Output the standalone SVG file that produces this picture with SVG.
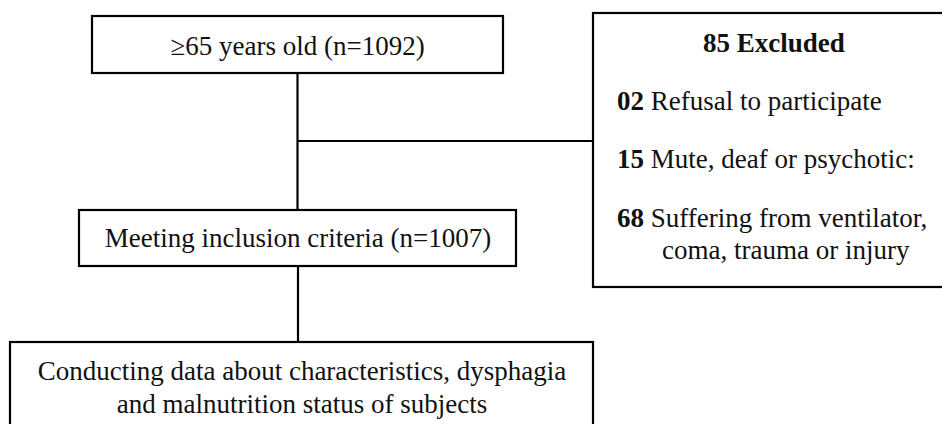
<svg xmlns="http://www.w3.org/2000/svg" width="942" height="424" viewBox="0 0 942 424">
<style>
.box{fill:#fff;stroke:#000;stroke-width:2.2}
.ln{fill:none;stroke:#000;stroke-width:2.2}
text{font-family:"Liberation Serif","Times New Roman",serif;font-size:27px;fill:#111}
.c{text-anchor:middle}
.b{font-weight:bold}
</style>
<rect width="942" height="424" fill="#fff"/>
<g id="connectors">
<line class="ln" x1="297.5" y1="73" x2="297.5" y2="210"/>
<line class="ln" x1="297.5" y1="141" x2="593" y2="141"/>
<line class="ln" x1="298" y1="266" x2="298" y2="342"/>
</g>
<g id="node-age">
<rect class="box" x="92" y="16" width="411" height="57"/>
<text class="c" x="297.5" y="55">≥65 years old (n=1092)</text>
</g>
<g id="node-inclusion">
<rect class="box" x="79" y="210" width="437" height="56"/>
<text class="c" x="298" y="247">Meeting inclusion criteria (n=1007)</text>
</g>
<g id="node-data">
<rect class="box" x="10" y="342" width="583" height="100"/>
<text class="c" x="302" y="380">Conducting data about characteristics, dysphagia</text>
<text class="c" x="302" y="413">and malnutrition status of subjects</text>
</g>
<g id="node-excluded">
<rect class="box" x="593" y="13" width="360" height="274"/>
<text class="b" x="703" y="52">85 Excluded</text>
<text x="617" y="110"><tspan class="b">02</tspan> Refusal to participate</text>
<text x="617" y="168"><tspan class="b">15</tspan> Mute, deaf or psychotic:</text>
<text x="617" y="227"><tspan class="b">68</tspan> Suffering from ventilator,</text>
<text x="662" y="259">coma, trauma or injury</text>
</g>
</svg>
